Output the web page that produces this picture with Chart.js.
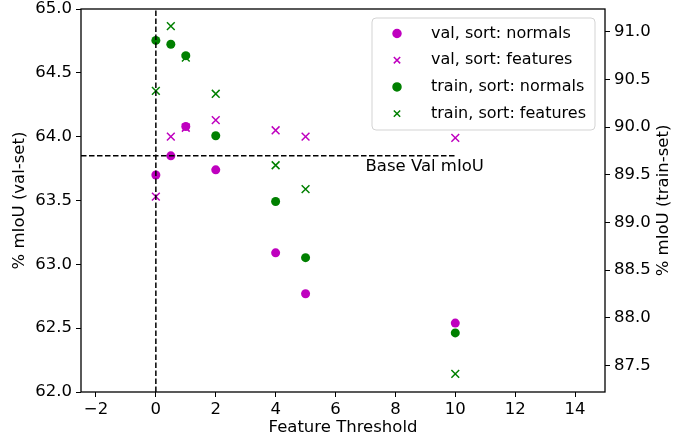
<!DOCTYPE html>
<html>
<head>
<meta charset="utf-8">
<script src="https://cdn.jsdelivr.net/npm/chart.js@4/dist/chart.umd.min.js"></script>
<style>
  body { margin: 0; background: #fff; }
  #wrap { width: 679px; height: 437px; }
</style>
</head>
<body>
<div id="wrap"><canvas id="scatterChart"></canvas></div>
<script>
// data
const thresholds = [0, 0.5, 1, 2, 4, 5, 10];
const valNormals = [63.70, 63.85, 64.08, 63.74, 63.09, 62.77, 62.54];
const valFeatures = [63.53, 64.00, 64.07, 64.13, 64.05, 64.00, 63.99];
const trainNormals = [90.91, 90.87, 90.75, 89.91, 89.22, 88.63, 87.84];
const trainFeatures = [90.38, 91.06, 90.73, 90.35, 89.60, 89.35, 87.41];
const baseVal = 63.85;
const baseLineX = [-2.5, 10];
const baseLabelX = 7;
const vLineX = 0;
const seriesLabels = ['val, sort: normals', 'val, sort: features', 'train, sort: normals', 'train, sort: features'];

const MAGENTA = 'rgb(191, 0, 191)';
const GREEN = 'rgb(0, 128, 0)';
const FONT = "'DejaVu Sans', sans-serif";
const FS = 16.5;

function pts(ys) {
    return thresholds.map((x, i) => ({ x: x, y: ys[i] }));
}

const markers = [
    { color: MAGENTA, style: 'circle', radius: 4.5 },
    { color: MAGENTA, style: 'crossRot', radius: 5.5 },
    { color: GREEN, style: 'circle', radius: 4.5 },
    { color: GREEN, style: 'crossRot', radius: 5.5 }
];

function scatterSet(i, ys, axis) {
    const m = markers[i];
    return {
        type: 'scatter',
        label: seriesLabels[i],
        data: pts(ys),
        yAxisID: axis,
        pointStyle: m.style,
        pointRadius: m.radius,
        pointHoverRadius: m.radius,
        pointBackgroundColor: m.color,
        pointBorderColor: m.color,
        pointBorderWidth: m.style === 'circle' ? 0 : 1.5
    };
}

// keep tick labels from pushing the plot area around
function noPad(s) {
    s.paddingTop = 0;
    s.paddingBottom = 0;
    s.paddingLeft = 0;
    s.paddingRight = 0;
}

// titles, frame, base label and legend
const extras = {
    id: 'extras',
    afterDatasetsDraw(chart) {
        const ctx = chart.ctx;
        const a = chart.chartArea;
        const x = chart.scales.x;
        const y = chart.scales.y;
        ctx.save();
        ctx.strokeStyle = '#000';
        ctx.lineWidth = 1.3;
        ctx.strokeRect(a.left, a.top, a.right - a.left, a.bottom - a.top);

        ctx.fillStyle = '#000';
        ctx.font = FS + 'px ' + FONT;
        ctx.textAlign = 'left';
        ctx.textBaseline = 'middle';
        ctx.fillText('Base Val mIoU', x.getPixelForValue(baseLabelX), y.getPixelForValue(baseVal) + 11);

        ctx.textAlign = 'center';
        ctx.fillText('Feature Threshold', (a.left + a.right) / 2, 428);
        const midY = (a.top + a.bottom) / 2;
        ctx.save();
        ctx.translate(20, midY);
        ctx.rotate(-Math.PI / 2);
        ctx.fillText('% mIoU (val-set)', 0, 0);
        ctx.restore();
        ctx.save();
        ctx.translate(664, midY);
        ctx.rotate(-Math.PI / 2);
        ctx.fillText('% mIoU (train-set)', 0, 0);
        ctx.restore();

        // legend box
        const lx = 372, ly = 18, lw = 223, lh = 112;
        ctx.beginPath();
        ctx.roundRect(lx, ly, lw, lh, 4);
        ctx.fillStyle = 'rgba(255,255,255,0.8)';
        ctx.fill();
        ctx.strokeStyle = '#d3d3d3';
        ctx.lineWidth = 1;
        ctx.stroke();
        ctx.font = '16px ' + FONT;
        seriesLabels.forEach((lab, i) => {
            const m = markers[i];
            const ry = 33.5 + i * 26.7;
            ctx.fillStyle = m.color;
            ctx.strokeStyle = m.color;
            ctx.lineWidth = 1.5;
            Chart.helpers.drawPoint(ctx, { pointStyle: m.style, radius: m.style === 'circle' ? 4 : 4.5, borderWidth: 1.5 }, 397, ry);
            ctx.fillStyle = '#000';
            ctx.textAlign = 'left';
            ctx.fillText(lab, 431, ry);
        });
        ctx.restore();
    }
};

const ctx = document.getElementById('scatterChart').getContext('2d');
const tickFont = { family: FONT, size: FS };

const chart = new Chart(ctx, {
    data: {
        datasets: [
            {
                type: 'line',
                label: 'vline',
                data: [{ x: vLineX, y: 62 }, { x: vLineX, y: 65 }],
                yAxisID: 'y',
                borderColor: '#000',
                borderWidth: 1.5,
                borderDash: [5.5, 2.5],
                pointRadius: 0,
                fill: false
            },
            {
                type: 'line',
                label: 'base',
                data: baseLineX.map(v => ({ x: v, y: baseVal })),
                yAxisID: 'y',
                borderColor: '#000',
                borderWidth: 1.5,
                borderDash: [5.5, 2.5],
                pointRadius: 0,
                fill: false
            },
            scatterSet(0, valNormals, 'y'),
            scatterSet(1, valFeatures, 'y'),
            scatterSet(2, trainNormals, 'y2'),
            scatterSet(3, trainFeatures, 'y2')
        ]
    },
    options: {
        responsive: true,
        maintainAspectRatio: false,
        animation: false,
        layout: { padding: { top: 9, left: 0, right: 0, bottom: 0 } },
        plugins: {
            legend: { display: false },
            tooltip: { enabled: false }
        },
        scales: {
            x: {
                type: 'linear',
                position: 'bottom',
                min: -2.5,
                max: 15,
                afterFit: s => { noPad(s); s.height = 45; },
                border: { display: false },
                grid: { drawOnChartArea: false, tickLength: 5, color: '#000', tickWidth: 1 },
                ticks: {
                    stepSize: 2,
                    includeBounds: false,
                    color: '#000',
                    font: tickFont,
                    padding: 3,
                    maxRotation: 0,
                    callback: v => String(v).replace('-', '\u2212')
                }
            },
            y: {
                type: 'linear',
                position: 'left',
                min: 62,
                max: 65,
                afterFit: s => { noPad(s); s.width = 81; },
                border: { display: false },
                grid: { drawOnChartArea: false, tickLength: 5, color: '#000', tickWidth: 1 },
                ticks: {
                    stepSize: 0.5,
                    color: '#000',
                    font: tickFont,
                    padding: 4,
                    callback: v => v.toFixed(1)
                }
            },
            y2: {
                type: 'linear',
                position: 'right',
                min: 87.22,
                max: 91.24,
                afterFit: s => { noPad(s); s.width = 74; },
                border: { display: false },
                grid: { drawOnChartArea: false, tickLength: 5, color: '#000', tickWidth: 1 },
                ticks: {
                    stepSize: 0.5,
                    includeBounds: false,
                    color: '#000',
                    font: tickFont,
                    padding: 4,
                    callback: v => v.toFixed(1)
                }
            }
        }
    },
    plugins: [extras]
});
</script>
</body>
</html>
